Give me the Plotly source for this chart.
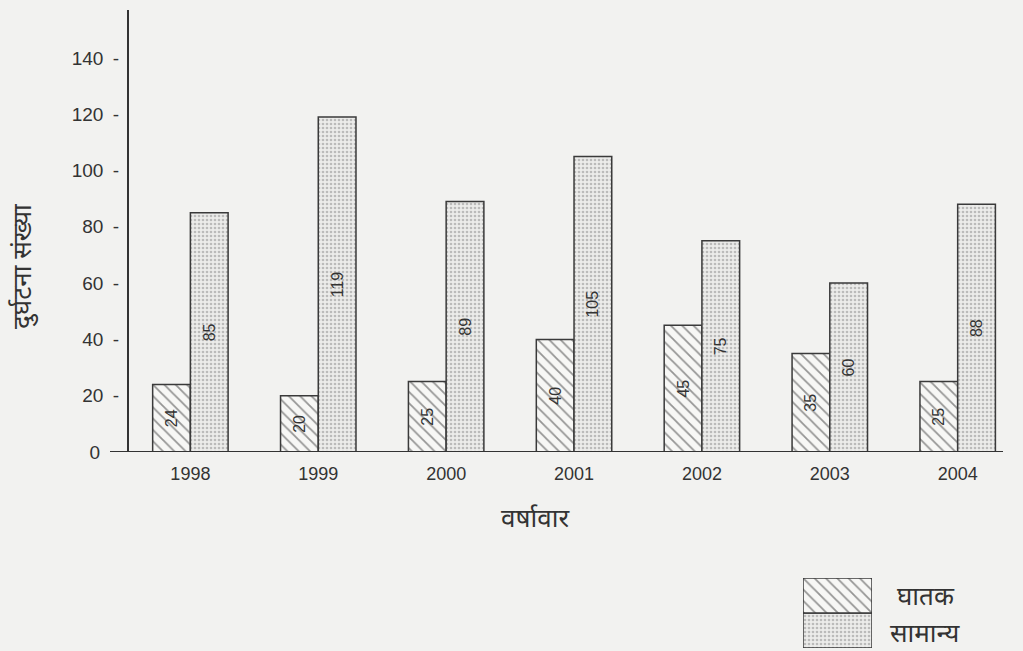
import plotly.graph_objects as go

# Year-wise accident counts
years = ["1998", "1999", "2000", "2001", "2002", "2003", "2004"]
fatal = [24, 20, 25, 40, 45, 35, 25]
normal = [85, 119, 89, 105, 75, 60, 88]

y_ticks = [0, 20, 40, 60, 80, 100, 120, 140]
y_tick_text = ["0\u2002\u2002"] + [f"{v}\u2002-" for v in y_ticks[1:]]

W, H = 1023, 651
INK = "#333333"
BG = "#f2f2f0"
FONT = "Liberation Sans, Arial, sans-serif"
HINDI = "Noto Sans, Lohit Devanagari, sans-serif"


def fx(px):
    return px / W


def fy(py):
    return 1 - py / H


hatch = dict(shape="\\", fgcolor="#333333", bgcolor="#f7f7f5", size=8, solidity=0.22)
dots = dict(shape=".", fgcolor="#8a8a8a", bgcolor="#ececea", size=4, solidity=0.35)
bar_line = dict(color="#3a3a3a", width=1.5)
label_font = dict(color=INK, size=16, family=FONT)

fig = go.Figure()

fig.add_trace(go.Bar(
    x=years, y=fatal, name="घातक",
    marker=dict(color="#f7f7f5", pattern=hatch, line=bar_line),
    text=[str(v) for v in fatal], textposition="inside", insidetextanchor="middle",
    textangle=-90, textfont=label_font, constraintext="none",
    xaxis="x", yaxis="y",
))
fig.add_trace(go.Bar(
    x=years, y=normal, name="सामान्य",
    marker=dict(color="#ececea", pattern=dots, line=bar_line),
    text=[str(v) for v in normal], textposition="inside", insidetextanchor="middle",
    textangle=-90, textfont=label_font, constraintext="none",
    xaxis="x", yaxis="y",
))

# Key swatches (stacked boxes) in the lower right
key_cat = ["key"]
fig.add_trace(go.Bar(
    x=key_cat, y=[1], base=[0], offsetgroup="key", width=1,
    marker=dict(color="#ececea", pattern=dots, line=bar_line),
    xaxis="x2", yaxis="y2", hoverinfo="skip",
))
fig.add_trace(go.Bar(
    x=key_cat, y=[1], base=[1], offsetgroup="key", width=1,
    marker=dict(color="#f7f7f5", pattern=hatch, line=bar_line),
    xaxis="x2", yaxis="y2", hoverinfo="skip",
))


def label(text, x, y, angle=0):
    return dict(text=text, xref="paper", yref="paper", x=fx(x), y=fy(y),
                xanchor="center", yanchor="middle", textangle=angle, showarrow=False,
                font=dict(size=26, color=INK, family=HINDI))


fig.update_layout(
    width=W, height=H,
    margin=dict(l=0, r=0, t=0, b=0, autoexpand=False),
    paper_bgcolor=BG, plot_bgcolor=BG,
    barmode="group", bargap=0.41, bargroupgap=0,
    showlegend=False,
    font=dict(family=FONT, color=INK),
    xaxis=dict(
        domain=[fx(129), fx(1005)], anchor="y",
        range=[-0.48, 6.37], showgrid=False, showline=False, zeroline=False,
        ticks="outside", ticklen=5, tickcolor=BG,
        tickfont=dict(size=18, color=INK, family=FONT),
    ),
    yaxis=dict(
        domain=[fy(452), fy(10)], anchor="x",
        range=[0, 157], showgrid=False, zeroline=False,
        showline=True, linecolor=INK, linewidth=2,
        tickvals=y_ticks, ticktext=y_tick_text, ticks="",
        ticklabelstandoff=4,
        tickfont=dict(size=19, color=INK, family=FONT),
    ),
    xaxis2=dict(
        domain=[fx(803), fx(872)], anchor="y2", range=[-0.5, 0.5],
        visible=False, fixedrange=True,
    ),
    yaxis2=dict(
        domain=[fy(648), fy(578)], anchor="x2", range=[0, 2],
        visible=False, fixedrange=True,
    ),
    shapes=[
        dict(type="line", xref="paper", yref="y", x0=fx(110), x1=fx(1003), y0=0, y1=0,
             line=dict(color=INK, width=2)),
    ],
    annotations=[
        label("दुर्घटना संख्या", 21, 266, -90),
        label("वर्षावार", 535, 517),
        label("घातक", 926, 595),
        label("सामान्य", 925, 632),
    ],
)

fig.write_html("out.html")
